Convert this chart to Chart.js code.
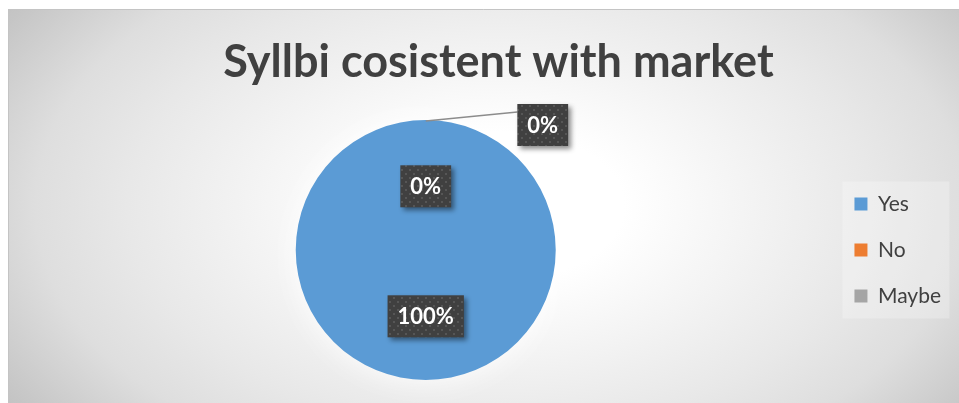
<!DOCTYPE html>
<html>
<head>
<meta charset="utf-8">
<script src="https://cdn.jsdelivr.net/npm/chart.js@4.4.1/dist/chart.umd.min.js"></script>
<style>
  html, body { margin: 0; padding: 0; background: #fff; }
  .wrap { width: 959px; height: 403px; position: relative; }
</style>
</head>
<body>
<div class="wrap">
  <canvas id="syllabi"></canvas>
</div>

<script>
  // data
  var answers = ["Yes", "No", "Maybe"];
  var shares = [100, 0, 0];
  var sliceColors = ["#5B9BD5", "#ED7D31", "#A5A5A5"];

  // gray radial background like the excel chart area
  var chartBg = {
    id: 'chartBg',
    afterLayout: (chart) => {
      // nudge the title a bit to the right, like the original
      chart.titleBlock.left += 24;
    },
    beforeDraw: (chart) => {
      var ctx = chart.ctx;
      ctx.save();
      ctx.fillStyle = '#ffffff';
      ctx.fillRect(0, 0, chart.width, chart.height);
      ctx.translate(500, 206);
      ctx.scale(1, 0.6);
      var g = ctx.createRadialGradient(0, 0, 0, 0, 0, 620);
      g.addColorStop(0, '#ffffff');
      g.addColorStop(0.2, '#ffffff');
      g.addColorStop(0.6, '#e8e8e8');
      g.addColorStop(0.75, '#dedede');
      g.addColorStop(0.93, '#c6c6c6');
      g.addColorStop(1, '#bebebe');
      ctx.fillStyle = g;
      ctx.fillRect(8 - 500, (9 - 206) / 0.6, 1000, 700);
      ctx.restore();
      ctx.save();
      ctx.strokeStyle = '#c4c4c4';
      ctx.lineWidth = 1;
      ctx.beginPath();
      ctx.moveTo(8.5, chart.height);
      ctx.lineTo(8.5, 9.5);
      ctx.lineTo(chart.width, 9.5);
      ctx.stroke();
      ctx.restore();

      // light box behind legend
      var lg = chart.legend;
      if (lg && lg.legendHitBoxes && lg.legendHitBoxes.length) {
        var hb = lg.legendHitBoxes;
        var x0 = hb[0].left - 12, y0 = hb[0].top - 12;
        var last = hb[hb.length - 1];
        ctx.save();
        ctx.fillStyle = 'rgba(255,255,255,0.25)';
        ctx.fillRect(x0, y0, 107, last.top + last.height + 12 - y0);
        ctx.restore();
      }
    },
    beforeDatasetsDraw: (chart) => {
      // soft white glow round the pie
      var ctx = chart.ctx;
      ctx.save();
      ctx.shadowColor = 'rgba(255,255,255,0.9)';
      ctx.shadowBlur = 30;
    },
    afterDatasetsDraw: (chart) => {
      chart.ctx.restore();
    }
  };

  function dotPattern(ctx) {
    var c = document.createElement('canvas');
    c.width = 8; c.height = 8;
    var p = c.getContext('2d');
    p.fillStyle = '#404040';
    p.fillRect(0, 0, 8, 8);
    p.fillStyle = '#565656';
    p.fillRect(1, 1, 2, 2);
    p.fillRect(5, 5, 2, 2);
    return ctx.createPattern(c, 'repeat');
  }

  // dark callout boxes with the percentages
  var pctLabels = {
    id: 'pctLabels',
    afterDatasetsDraw: (chart) => {
      var ctx = chart.ctx;
      var meta = chart.getDatasetMeta(0);
      var total = shares.reduce((a, b) => a + b, 0);
      var pat = dotPattern(ctx);
      ctx.save();
      ctx.shadowColor = 'transparent';
      ctx.shadowBlur = 0;
      ctx.font = 'bold 22px Lato';
      meta.data.forEach((arc, i) => {
        var txt = Math.round(shares[i] / total * 100) + '%';
        var mid = (arc.startAngle + arc.endAngle) / 2;
        var cx, cy, ex, ey;
        if (i === 2) {
          // outside label with a leader line
          ex = arc.x + Math.cos(mid) * arc.outerRadius;
          ey = arc.y + Math.sin(mid) * arc.outerRadius;
          cx = ex + 117; cy = ey + 5;
        } else {
          var f = i === 0 ? 0.51 : 0.49;
          cx = arc.x + Math.cos(mid) * arc.outerRadius * f;
          cy = arc.y + Math.sin(mid) * arc.outerRadius * f;
        }
        var w = ctx.measureText(txt).width + 20;
        var h = 42;
        if (i === 2) {
          ctx.strokeStyle = '#8c8c8c';
          ctx.lineWidth = 1.5;
          ctx.beginPath();
          ctx.moveTo(ex, ey + 1);
          ctx.lineTo(cx - w / 2, cy - 13);
          ctx.stroke();
        }
        ctx.save();
        ctx.shadowColor = 'rgba(0,0,0,0.45)';
        ctx.shadowBlur = 5;
        ctx.shadowOffsetX = 3;
        ctx.shadowOffsetY = 3;
        ctx.fillStyle = pat;
        ctx.fillRect(cx - w / 2, cy - h / 2, w, h);
        ctx.restore();
        ctx.fillStyle = '#ffffff';
        ctx.textAlign = 'center';
        ctx.textBaseline = 'middle';
        ctx.fillText(txt, cx, cy + 1);
      });
      ctx.restore();
    }
  };

  new Chart(document.getElementById('syllabi'), {
    type: 'pie',
    data: {
      labels: answers,
      datasets: [{
        data: shares,
        backgroundColor: sliceColors,
        borderWidth: 0
      }]
    },
    options: {
      responsive: true,
      maintainAspectRatio: false,
      animation: false,
      layout: {
        padding: { top: 9, left: 22, right: 8, bottom: 23 }
      },
      plugins: {
        title: {
          display: true,
          text: 'Syllbi cosistent with market',
          color: '#404040',
          font: { family: 'Lato', size: 45, weight: 'bold' },
          padding: { top: 26, bottom: 31 }
        },
        legend: {
          position: 'right',
          fullSize: false,
          labels: {
            color: '#404040',
            font: { family: 'Lato', size: 21 },
            boxWidth: 13,
            boxHeight: 13,
            padding: 25
          }
        },
        tooltip: { enabled: false }
      }
    },
    plugins: [chartBg, pctLabels]
  });
</script>
</body>
</html>
